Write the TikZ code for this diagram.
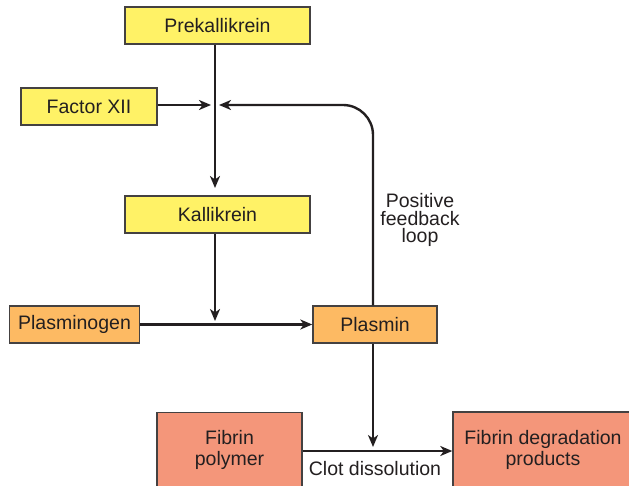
\documentclass[tikz,border=0pt]{standalone}
\usepackage{fontspec}
\setmainfont{Liberation Sans}
\usetikzlibrary{arrows.meta}
\definecolor{boxyellow}{RGB}{255,242,102}
\definecolor{boxorange}{RGB}{253,186,99}
\definecolor{boxsalmon}{RGB}{244,150,122}
\definecolor{ink}{RGB}{35,31,32}
\tikzset{
  box/.style={draw=ink!85, line width=1.4bp, rectangle, inner sep=0pt, align=center,
    text=ink, font=\fontsize{19.5bp}{21.5bp}\selectfont},
  ybox/.style={box, fill=boxyellow},
  obox/.style={box, fill=boxorange},
  sbox/.style={box, fill=boxsalmon},
  conn/.style={draw=ink, line width=2.4bp},
  arr/.style={conn, -{Stealth[length=12bp,width=10bp,inset=3.5bp]}},
  lbl/.style={text=ink, align=center, font=\fontsize{19.5bp}{17.5bp}\selectfont, inner sep=0pt}
}
\begin{document}
\begin{tikzpicture}[x=1bp,y=-1bp]
\useasboundingbox (0,0) rectangle (629,486);
\clip (0,0) rectangle (629,486);
\node[ybox, minimum width=185bp, minimum height=37bp] (prek) at (217.5,25.5) {Prekallikrein};
\node[ybox, minimum width=136bp, minimum height=37bp] (f12) at (89,106.5) {Factor XII};
\node[ybox, minimum width=185bp, minimum height=37bp] (kall) at (217.5,214.5) {Kallikrein};
\node[obox, minimum width=130bp, minimum height=37bp] (plg) at (74.5,324.5) {Plasminogen};
\node[obox, minimum width=124bp, minimum height=37bp] (pl) at (375,324.5) {Plasmin};
\node[sbox, minimum width=145bp, minimum height=75bp] (fib) at (229.5,450) {Fibrin\\polymer};
\node[sbox, minimum width=180bp, minimum height=76bp] (fdp) at (543,450) {Fibrin degradation\\products};
\coordinate (j1) at (215,105);
\coordinate (j1l) at (211,105);
\coordinate (j1r) at (219,105);
\coordinate (k1) at (215,188);
\coordinate (k2) at (215,321);
\coordinate (p2) at (373,447);
\coordinate (f2) at (373,451);
\coordinate (fb) at (373,105);
\node[lbl] (pfl) at (420,220) {Positive\\feedback\\loop};
\node[lbl] (clot) at (375,469) {Clot dissolution};
% connectors
\draw[arr] (prek.south -| j1) -- (k1);
\draw[arr] (f12.east |- j1l) -- (j1l);
\draw[arr, rounded corners=30bp] (pl.north -| fb) -- (fb) -- (j1r);
\draw[arr] (kall.south -| k2) -- (k2);
\draw[arr] (plg.east |- pl.west) -- (pl.west);
\draw[arr] (pl.south -| p2) -- (p2);
\draw[arr] (fib.east |- f2) -- (fdp.west |- f2);
\end{tikzpicture}
\end{document}
